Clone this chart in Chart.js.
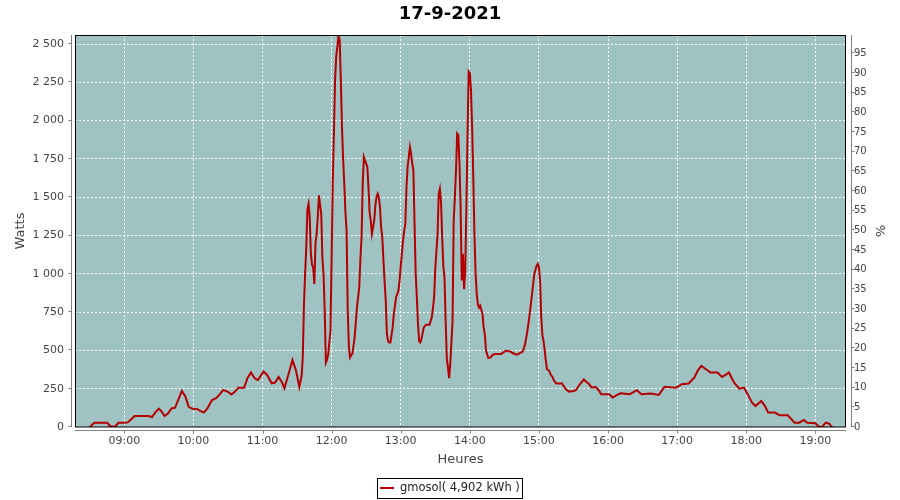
<!DOCTYPE html>
<html>
<head>
<meta charset="utf-8">
<script src="https://cdn.jsdelivr.net/npm/chart.js@4/dist/chart.umd.min.js"></script>
<style>
  body { margin: 0; background: #fff; }
  #wrap { width: 900px; height: 500px; }
</style>
</head>
<body>
<div id="wrap"><canvas id="prod" width="900" height="500"></canvas></div>
<script>
const chartTitle = "17-9-2021";
const seriesLabel = "gmosol( 4,902 kWh )";

// heure de la mesure / puissance en W
const times = [
  "08:30","08:34","08:38","08:45","08:48","08:52","08:55","09:00","09:03","09:06",
  "09:09","09:15","09:21","09:24","09:27","09:30","09:32","09:35","09:38","09:41",
  "09:44","09:47","09:50","09:53","09:56","10:00","10:03","10:06","10:09","10:12",
  "10:16","10:20","10:23","10:26","10:30","10:33","10:36","10:39","10:44","10:47",
  "10:50","10:53","10:56","10:59","11:01","11:04","11:08","11:11","11:14","11:17",
  "11:19","11:22","11:26","11:29","11:32","11:33","11:34","11:35","11:36","11:37",
  "11:38","11:39","11:40","11:41","11:42","11:43","11:44","11:45","11:46","11:47",
  "11:48","11:49","11:50","11:51","11:52","11:53","11:54","11:55","11:56","11:57",
  "11:58","11:59","12:00","12:01","12:02","12:03","12:04","12:05","12:06","12:07",
  "12:08","12:09","12:10","12:11","12:12","12:13","12:14","12:15","12:16","12:17",
  "12:18","12:20","12:22","12:24","12:25","12:26","12:27","12:28","12:29","12:30",
  "12:31","12:32","12:33","12:34","12:35","12:36","12:37","12:38","12:39","12:40",
  "12:41","12:42","12:43","12:44","12:45","12:46","12:47","12:48","12:49","12:50",
  "12:51","12:52","12:53","12:54","12:56","12:58","12:59","13:00","13:01","13:02",
  "13:03","13:04","13:05","13:06","13:07","13:08","13:09","13:10","13:11","13:12",
  "13:13","13:14","13:15","13:16","13:17","13:18","13:20","13:22","13:25","13:27",
  "13:28","13:29","13:30","13:31","13:32","13:33","13:34","13:35","13:36","13:37",
  "13:38","13:39","13:40","13:41","13:42","13:43","13:44","13:45","13:46","13:47",
  "13:48","13:49","13:50","13:51","13:52","13:53","13:54","13:55","13:56","13:57",
  "13:58","13:59","14:00","14:01","14:02","14:03","14:04","14:05","14:06","14:07",
  "14:08","14:09","14:11","14:12","14:13","14:14","14:15","14:16","14:18","14:20",
  "14:22","14:27","14:31","14:35","14:38","14:41","14:43","14:46","14:48","14:50",
  "14:52","14:54","14:56","14:58","14:59","15:00","15:01","15:02","15:03","15:04",
  "15:05","15:06","15:07","15:09","15:10","15:12","15:13","15:15","15:20","15:23",
  "15:26","15:30","15:32","15:36","15:39","15:41","15:43","15:46","15:49","15:52",
  "15:54","15:58","16:01","16:04","16:09","16:11","16:19","16:25","16:29","16:37",
  "16:44","16:49","16:59","17:04","17:10","17:15","17:18","17:21","17:25","17:29",
  "17:35","17:39","17:43","17:45","17:48","17:50","17:54","17:58","18:02","18:05",
  "18:08","18:13","18:16","18:19","18:25","18:29","18:36","18:42","18:46","18:50",
  "18:53","19:00","19:03","19:06","19:09","19:12","19:14","19:15"
];
const watts = [
  0,28,28,28,5,3,28,28,30,50,
  72,72,72,65,95,120,105,72,90,122,
  125,180,236,200,130,118,118,105,94,120,
  174,190,215,242,230,212,230,257,257,320,
  356,320,306,340,362,340,285,290,327,290,
  253,330,438,370,262,300,334,465,803,1000,
  1174,1420,1457,1370,1130,1060,1043,934,1200,1261,
  1370,1512,1450,1392,1100,999,760,421,440,476,
  550,628,1100,1600,1916,2265,2420,2483,2560,2525,
  2265,1959,1750,1588,1400,1283,760,520,454,470,
  476,585,781,912,1100,1239,1588,1763,1740,1719,
  1697,1566,1400,1348,1261,1305,1348,1450,1501,1523,
  1500,1436,1300,1239,1086,950,825,607,560,552,
  552,600,650,738,847,890,956,1050,1130,1217,
  1280,1326,1566,1700,1763,1828,1785,1720,1675,1326,
  1000,847,672,560,552,574,650,668,668,716,
  780,847,1032,1150,1261,1523,1556,1468,1239,1050,
  977,694,450,389,319,410,550,694,1348,1500,
  1675,1916,1905,1719,1436,956,1130,900,1020,1436,
  1894,2319,2308,2199,1959,1632,1261,1000,869,800,
  781,792,738,650,607,500,476,450,454,472,
  476,476,497,493,480,472,480,493,541,628,
  738,869,999,1053,1065,1043,956,716,600,562,
  500,432,377,367,345,323,305,284,284,250,
  231,235,240,284,310,295,284,257,262,240,
  214,214,214,192,214,220,214,240,214,218,
  209,262,257,279,284,323,370,399,377,356,
  356,327,345,356,310,284,250,257,203,159,
  137,170,140,94,94,76,76,28,28,46,
  28,24,2,2,28,22,2,0
];

const hourTicks = ["09:00","10:00","11:00","12:00","13:00","14:00","15:00","16:00","17:00","18:00","19:00"];
const wattTicks = [0,250,500,750,1000,1250,1500,1750,2000,2250,2500];
const percentTicks = [0,5,10,15,20,25,30,35,40,45,50,55,60,65,70,75,80,85,90,95];

function toMin(t) {
  const p = t.split(":");
  return (+p[0]) * 60 + (+p[1]);
}
function fmtMin(v) {
  const h = Math.floor(v / 60), m = Math.round(v % 60);
  return String(h).padStart(2, "0") + ":" + String(m).padStart(2, "0");
}
function fmtWatt(v) {
  return String(v).replace(/\B(?=(\d{3})+(?!\d))/g, " ");
}

const points = times.map((t, i) => ({ x: toMin(t), y: watts[i] }));

const txtGrey = "#444444";
const axisGrey = "#808080";
const fam = "'DejaVu Sans', sans-serif";
Chart.defaults.font.family = fam;

// fond du graphe, cadre noir, axes decales et cadre de la legende
const framePlugin = {
  id: "frame",
  beforeDraw(chart) {
    const { ctx, chartArea: a } = chart;
    ctx.save();
    ctx.fillStyle = "#9ec3c2";
    ctx.fillRect(a.left, a.top, a.right - a.left, a.bottom - a.top);
    ctx.restore();
  },
  afterDatasetsDraw(chart) {
    const { ctx, chartArea: a, scales } = chart;
    ctx.save();
    ctx.lineWidth = 1;
    ctx.strokeStyle = "#000";
    ctx.strokeRect(a.left + 0.5, a.top + 0.5, a.right - a.left - 1, a.bottom - a.top - 0.5);

    ctx.strokeStyle = axisGrey;
    ctx.beginPath();
    const lx = a.left - 3.5, rx = a.right + 5.5, by = a.bottom + 3.5;
    ctx.moveTo(lx, a.top); ctx.lineTo(lx, a.bottom);
    scales.y.ticks.forEach(t => {
      const y = Math.round(scales.y.getPixelForValue(t.value)) - 0.5;
      ctx.moveTo(lx, y); ctx.lineTo(lx - 3, y);
    });
    ctx.moveTo(rx, a.top); ctx.lineTo(rx, a.bottom);
    scales.y2.ticks.forEach(t => {
      const y = Math.round(scales.y2.getPixelForValue(t.value)) - 0.5;
      ctx.moveTo(rx, y); ctx.lineTo(rx + 3, y);
    });
    ctx.moveTo(a.left, by); ctx.lineTo(a.right, by);
    scales.x.ticks.forEach(t => {
      const x = Math.round(scales.x.getPixelForValue(t.value)) + 0.5;
      ctx.moveTo(x, by); ctx.lineTo(x, by + 3);
    });
    ctx.stroke();
    ctx.restore();
  },
  afterDraw(chart) {
    const hb = chart.legend && chart.legend.legendHitBoxes[0];
    if (!hb) return;
    const ctx = chart.ctx;
    ctx.save();
    ctx.strokeStyle = "#000";
    ctx.lineWidth = 1;
    ctx.strokeRect(Math.round(hb.left - 3) + 0.5, Math.round(hb.top - 4.5) + 0.5,
      Math.round(hb.width + 5), Math.round(hb.height + 8));
    ctx.restore();
  }
};

new Chart("prod", {
  type: "line",
  data: {
    datasets: [{
      label: seriesLabel,
      data: points,
      borderColor: "#b40000",
      backgroundColor: "#b40000",
      borderWidth: 2,
      pointRadius: 0,
      tension: 0,
      yAxisID: "y"
    }]
  },
  options: {
    responsive: false,
    animation: false,
    devicePixelRatio: 1,
    layout: { padding: { left: 0, right: 0, top: 0, bottom: -3.75 } },
    plugins: {
      title: {
        display: true,
        text: chartTitle,
        color: "#000",
        font: { size: 18, weight: "bold", family: fam },
        padding: { top: 3.2, bottom: 10.2 }
      },
      legend: {
        display: true,
        position: "bottom",
        labels: {
          usePointStyle: true,
          pointStyle: "line",
          pointStyleWidth: 14,
          color: "#222",
          font: { size: 11.5, family: fam },
          padding: 10
        }
      },
      tooltip: { enabled: false }
    },
    scales: {
      x: {
        type: "linear",
        min: 497.2,
        max: 1166.6,
        afterBuildTicks: (scale) => { scale.ticks = hourTicks.map(h => ({ value: toMin(h) })); },
        afterFit: (scale) => { scale.height = 45.25; },
        grid: { color: "#ffffff", lineWidth: 1, drawTicks: false },
        border: { display: false, dash: [2, 2] },
        ticks: {
          autoSkip: false, maxRotation: 0, padding: 8,
          color: txtGrey, font: { size: 11, family: fam },
          callback: (v) => fmtMin(v)
        },
        title: {
          display: true, text: "Heures", color: txtGrey,
          font: { size: 13, family: fam },
          padding: { top: 0, bottom: 4.5 }
        }
      },
      y: {
        position: "left",
        min: 0,
        max: 2559,
        afterBuildTicks: (scale) => { scale.ticks = wattTicks.map(v => ({ value: v })); },
        afterFit: (scale) => { scale.width = 75; },
        grid: { color: "#ffffff", lineWidth: 1, drawTicks: false },
        border: { display: false, dash: [2, 2] },
        ticks: {
          padding: 11, color: txtGrey, font: { size: 11, family: fam },
          callback: (v) => fmtWatt(v)
        },
        title: {
          display: true, text: "Watts", color: txtGrey,
          font: { size: 13, family: fam },
          padding: { top: 13, bottom: 0 }
        }
      },
      y2: {
        position: "right",
        min: 0,
        max: 99.65,
        afterBuildTicks: (scale) => { scale.ticks = percentTicks.map(v => ({ value: v })); },
        afterFit: (scale) => { scale.width = 54; },
        grid: { display: false, drawTicks: false },
        border: { display: false },
        ticks: {
          padding: 8, color: txtGrey, font: { size: 10, family: fam },
          callback: (v) => String(v)
        },
        title: {
          display: true, text: "%", color: txtGrey,
          font: { size: 13, family: fam },
          padding: { top: 12.7, bottom: 0 }
        }
      }
    }
  },
  plugins: [framePlugin]
});
</script>
</body>
</html>
